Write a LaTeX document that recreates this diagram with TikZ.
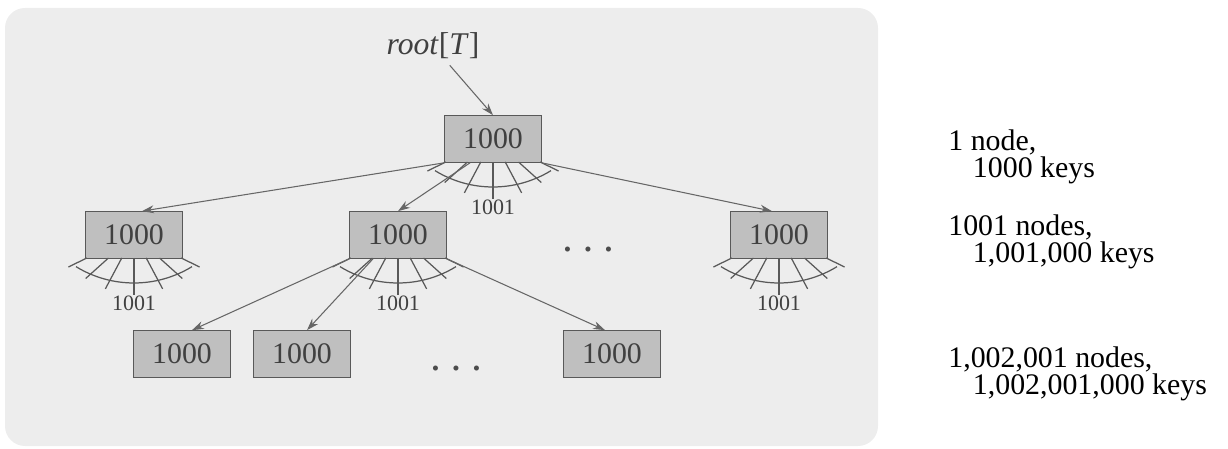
\documentclass[tikz,border=0pt]{standalone}
\usepackage{fontspec}
\setmainfont{Liberation Serif}
\usepackage{tikz}
\usetikzlibrary{arrows.meta, calc}

\begin{document}
\begin{tikzpicture}[x=0.02cm,y=-0.02cm,
	block/.style={rectangle,draw=black!65,fill=gray!50,text=black!75,inner sep=0pt,
		minimum width=1.94cm,minimum height=0.94cm,font=\fontsize{17}{20}\selectfont},
	link/.style={draw=black!60,line width=0.6pt,-{Stealth[length=2.4mm,width=1.6mm]}},
	spoke/.style={draw=black!65,line width=0.7pt},
	fanlbl/.style={text=black!75,inner sep=1pt,font=\fontsize{12.5}{14}\selectfont},
	ellipsis/.style={text=black!70,inner sep=0pt,font=\fontsize{12}{12}\selectfont},
	count/.style={anchor=west,align=left,inner sep=0pt,font=\fontsize{17}{15.5}\selectfont}]
\useasboundingbox (0,0) rectangle (1228,449);
\fill[gray!14,rounded corners=0.4cm] (5,8) rectangle (878,446);
% tree
\node[text=black!75,font=\fontsize{18}{20}\selectfont] (rootT) at (433,46) {\textit{root}[\textit{T}]};
\node[block] (root) at (493,139) {1000};
\node[block] (c1) at (134,235) {1000};
\node[block] (c2) at (398,235) {1000};
\node[block] (c3) at (779,235) {1000};
\node[block] (b1) at (182,354) {1000};
\node[block] (b2) at (302,354) {1000};
\node[block] (b3) at (612,354) {1000};
\node[ellipsis] (cmore) at (588,252) {\textbullet\hspace{7.5pt}\textbullet\hspace{7.5pt}\textbullet};
\node[ellipsis] (bmore) at (456,371) {\textbullet\hspace{7.5pt}\textbullet\hspace{7.5pt}\textbullet};
% fans of children
\foreach \n in {root,c1,c2,c3}{
	\begin{scope}[shift={(\n.center)}]
	\foreach \a/\r in {-64/73,-48/65,-28/61,0/60,28/61,48/65,64/73}
		\draw[spoke] ({90+\a}:{23/cos(\a)}) -- ({90+\a}:\r);
	\draw[spoke] (0,-63) ++(58.5:111) arc[start angle=58.5,end angle=121.5,radius=111];
	\end{scope}
	\node[fanlbl] (\n-kids) at ($(\n.center)+(0,68)$) {1001};
}
\draw[link] (rootT) -- (root.north);
\draw[link] (root.south west) -- ($(c1.north)+(8,0)$);
\draw[link] ($(root.south)+(-23,0)$) -- (c2.north);
\draw[link] (root.south east) -- ($(c3.north)+(-7,0)$);
\draw[link] (c2.south west) -- ($(b1.north)+(10,0)$);
\draw[link] ($(c2.south)+(-25,0)$) -- ($(b2.north)+(5,0)$);
\draw[link] (c2.south east) -- ($(b3.north)+(-7,0)$);
% counts
\node[count] (n0) at (948,157) {1 node,\\ \hspace*{14pt}1000 keys};
\node[count] (n1) at (948,242) {1001 nodes,\\ \hspace*{14pt}1,001,000 keys};
\node[count] (n2) at (948,374) {1,002,001 nodes,\\ \hspace*{14pt}1,002,001,000 keys};
\end{tikzpicture}
\end{document}
